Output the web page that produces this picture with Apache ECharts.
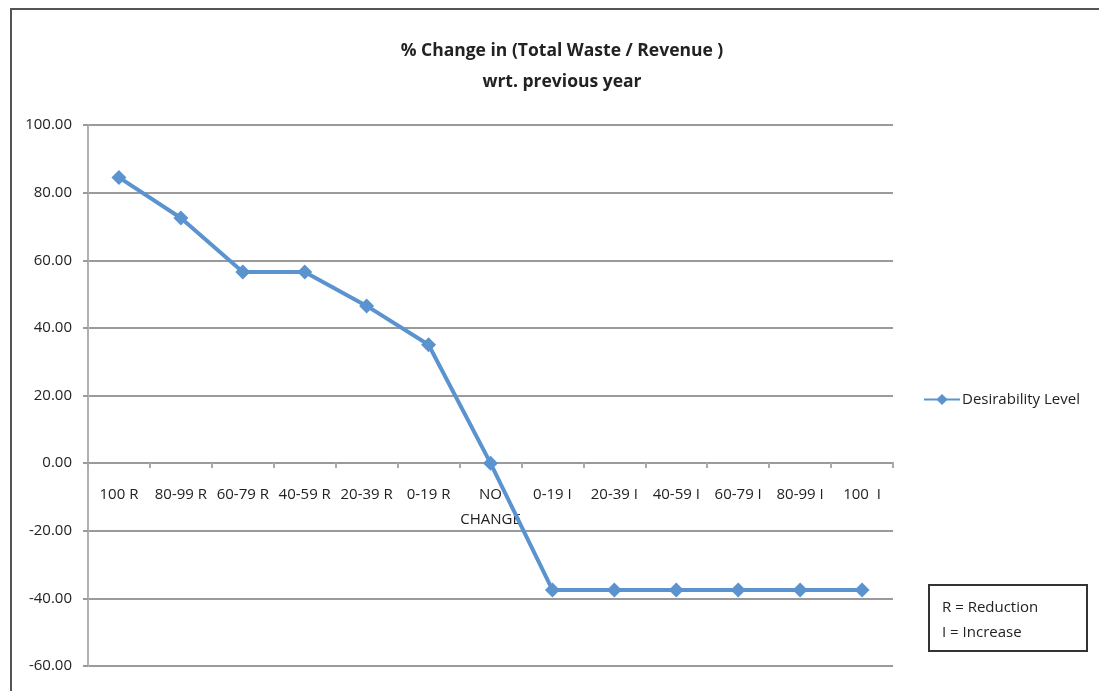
<!DOCTYPE html>
<html>
<head>
<meta charset="utf-8">
<script src="https://cdn.jsdelivr.net/npm/echarts@6/dist/echarts.min.js"></script>
<style>
  html, body { margin: 0; padding: 0; background: #fff; }
  #frame { position: absolute; left: 10px; top: 8px; width: 1099px; height: 700px;
           border-left: 2px solid #555; border-top: 2px solid #555; box-sizing: border-box; }
  #main { position: absolute; left: 0; top: 0; width: 1099px; height: 691px; }
</style>
</head>
<body>
<div id="frame"></div>
<div id="main"></div>
<script>
// categories along the x axis
var categories = ['100 R', '80-99 R', '60-79 R', '40-59 R', '20-39 R', '0-19 R', 'NO\nCHANGE',
                  '0-19 I', '20-39 I', '40-59 I', '60-79 I', '80-99 I', '100  I'];
// Desirability Level values (% change)
var desirability = [84.5, 72.5, 56.5, 56.5, 46.5, 35.0, 0, -37.5, -37.5, -37.5, -37.5, -37.5, -37.5];
var seriesName = 'Desirability Level';
var yMin = -60, yMax = 100, yStep = 20;

(function () {
  var dom = document.getElementById('main');
  var myChart = echarts.init(dom);
  var font = "'Open Sans', 'Liberation Sans', sans-serif";
  var gridTop = 125, gridBottom = 25, gridH = 691 - gridTop - gridBottom;
  // x axis sits on the zero line: shift it up from the bottom edge
  var zeroOffset = -Math.round(gridH * (0 - yMin) / (yMax - yMin));
  var option = {
    animation: false,
    textStyle: { fontFamily: font },
    title: {
      text: '% Change in (Total Waste / Revenue )\nwrt. previous year',
      left: 557,
      textAlign: 'center',
      top: 31,
      textStyle: { fontSize: 17.5, fontWeight: 'bold', color: '#222', lineHeight: 31, fontFamily: font }
    },
    legend: {
      left: 918,
      top: 387,
      itemWidth: 36,
      itemHeight: 14,
      itemGap: 2,
      textStyle: { fontSize: 15, color: '#222', fontFamily: font, padding: [0, 0, 0, -3] },
      data: [seriesName]
    },
    grid: { left: 88, right: 206, top: gridTop, bottom: gridBottom, outerBoundsMode: 'none', containLabel: false },
    xAxis: {
      type: 'category',
      data: categories,
      boundaryGap: true,
      position: 'bottom',
      offset: zeroOffset,
      axisLine: { onZero: false, lineStyle: { color: '#9a9a9a', width: 2 } },
      axisTick: { show: true, length: 5, lineStyle: { color: '#aaa', width: 2 } },
      axisLabel: { interval: 0, margin: 19, fontSize: 15, color: '#222', lineHeight: 25, fontFamily: font }
    },
    yAxis: {
      type: 'value',
      min: yMin,
      max: yMax,
      interval: yStep,
      axisLine: { show: true, lineStyle: { color: '#b0b0b0', width: 2 } },
      axisTick: { show: true, length: 5, lineStyle: { color: '#9a9a9a', width: 2 } },
      axisLabel: {
        margin: 16, fontSize: 15, color: '#222', fontFamily: font,
        formatter: function (v) { return v.toFixed(2); }
      },
      splitLine: { lineStyle: { color: '#9a9a9a', width: 2 } }
    },
    series: [
      {
        name: seriesName,
        type: 'line',
        data: desirability,
        symbol: 'diamond',
        symbolSize: 15,
        itemStyle: { color: '#5b93cf' },
        lineStyle: { color: '#5b93cf', width: 4 },
        z: 5
      }
    ],
    graphic: [
      {
        type: 'group',
        left: 928,
        top: 584,
        children: [
          { type: 'rect', shape: { x: 0, y: 0, width: 158, height: 66 },
            style: { fill: '#fff', stroke: '#333', lineWidth: 2 } },
          { type: 'text', x: 13, y: 15,
            style: { text: 'R = Reduction', fontSize: 15, fill: '#222', fontFamily: font } },
          { type: 'text', x: 13, y: 40,
            style: { text: 'I = Increase', fontSize: 15, fill: '#222', fontFamily: font } }
        ]
      }
    ]
  };
  if (option && typeof option === 'object') {
    myChart.setOption(option, true);
  }
})();
</script>
</body>
</html>
